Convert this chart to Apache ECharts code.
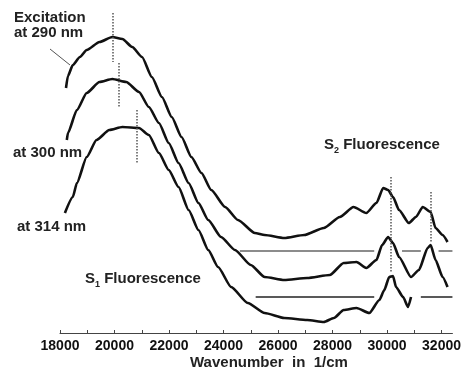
<!DOCTYPE html>
<html>
<head>
<meta charset="utf-8">
<script src="https://cdn.jsdelivr.net/npm/echarts@6/dist/echarts.min.js"></script>
<style>html,body{margin:0;padding:0;background:#fff}#c{width:464px;height:374px}</style>
</head>
<body>
<div id="c"></div>
<script>
// Wavenumber (1/cm) and intensity (arbitrary units)
const wn290 = [18220,18290,18470,18730,18980,19450,19920,20290,20650,21010,21370,21740,22100,22460,22820,23190,23550,24060,24530,25150,25510,26230,26960,27680,28270,28770,29240,29610,29860,30040,30220,30440,30800,31060,31310,31600,31780,32040,32220];
const int290 = [245,257,268,276,283,291,296,294,286,276,256,236,216,196,176,160,143,126,113,100,98,95,98,105,116,126,120,130,145,143,136,123,110,116,126,121,105,98,91];

const wn300 = [18250,18290,18620,18980,19450,19920,20430,20900,21260,21630,21990,22350,22720,23080,23440,23910,24420,25000,25510,26230,27070,27900,28410,28880,29240,29610,29820,30040,30220,30440,30880,31170,31490,31600,31780,32040,32220];
const int300 = [193,200,223,240,251,254,251,241,226,210,190,170,150,130,113,96,83,68,56,53,55,58,70,71,65,73,88,96,90,76,56,63,85,88,73,56,46];

const wn314 = [18180,18470,18620,18980,19340,19810,20290,20900,21260,21630,21990,22350,22720,23080,23440,23800,24280,24890,25510,26230,27070,27680,28050,28410,28880,29350,29720,29900,30080,30220,30330,30590,30770,30880];
const int314 = [120,136,150,176,193,203,206,205,198,180,163,146,123,103,83,66,46,30,20,15,13,11,15,23,25,20,33,43,56,57,46,36,26,36];

// Baselines: [start, end] segments and their level
const base300Level = 82;
const base300Segs = [[24600,29530],[30550,31240],[31890,32400]];
const base314Level = 36.5;
const base314Segs = [[25180,29530],[31240,32400]];

// Dotted peak markers: [wavenumber, from, to]
const peakMarks = [[19920,320,271],[20140,270,226],[20830,223,170],[30150,156,60],[31600,141,90]];

const xTicks = [18000,19000,20000,21000,22000,23000,24000,25000,26000,27000,28000,29000,30000,31000,32000];
const xLabels = [18000,20000,22000,24000,26000,28000,30000,32000];

const zip = (a,b) => a.map((v,i) => [v,b[i]]);
const segLines = (segs, lvl) => segs.map(s => [{coord:[s[0],lvl]},{coord:[s[1],lvl]}]);

const curveStyle = {color:'#111', width:2.6};
const FONT = '"Liberation Sans", Arial, sans-serif';
const chart = echarts.init(document.getElementById('c'));
chart.setOption({
  animation:false,
  backgroundColor:'#fff',
  grid:{left:60,right:7,top:0,bottom:41},
  xAxis:{
    type:'value', min:18000, max:32400,
    axisLine:{lineStyle:{color:'#444',width:1}},
    axisTick:{show:true, inside:true, length:3, customValues:xTicks, lineStyle:{color:'#444'}},
    axisLabel:{customValues:xLabels, formatter:v => String(v), margin:6, color:'#111', fontFamily:FONT, fontWeight:'bold', fontSize:14},
    splitLine:{show:false}
  },
  yAxis:{type:'value', min:0, max:333, show:false},
  series:[
    {type:'line', data:zip(wn290,int290), symbol:'none', smooth:0.2, smoothMonotone:'x', lineStyle:curveStyle},
    {type:'line', data:zip(wn300,int300), symbol:'none', smooth:0.2, smoothMonotone:'x', lineStyle:curveStyle,
      markLine:{silent:true, symbol:'none', label:{show:false}, lineStyle:{color:'#666', width:1.5, type:'solid'},
        data:segLines(base300Segs, base300Level)}},
    {type:'line', data:zip(wn314,int314), symbol:'none', smooth:0.2, smoothMonotone:'x', lineStyle:curveStyle,
      markLine:{silent:true, symbol:'none', label:{show:false}, lineStyle:{color:'#222', width:1.5, type:'solid'},
        data:segLines(base314Segs, base314Level)}},
    {type:'line', data:[], symbol:'none',
      markLine:{silent:true, symbol:'none', label:{show:false}, lineStyle:{color:'#555', width:1.5, type:'dotted'},
        data:peakMarks.map(p => [{coord:[p[0],p[1]]},{coord:[p[0],p[2]]}])}}
  ],
  graphic:[
    {type:'line', shape:{x1:50,y1:49,x2:70,y2:65}, style:{stroke:'#555', lineWidth:1}},
    {type:'text', left:14, top:10, style:{text:'Excitation', fill:'#222', font:'bold 15px ' + FONT}},
    {type:'text', left:14, top:25, style:{text:'at 290 nm', fill:'#222', font:'bold 15px ' + FONT}},
    {type:'text', left:13, top:145, style:{text:'at 300 nm', fill:'#222', font:'bold 15px ' + FONT}},
    {type:'text', left:17, top:219, style:{text:'at 314 nm', fill:'#222', font:'bold 15px ' + FONT}},
    {type:'text', left:85, top:268, style:{text:'{a|S}{s|1}{a| Fluorescence}', fill:'#222',
      rich:{a:{font:'bold 15px ' + FONT, fill:'#222', lineHeight:18},
            s:{font:'bold 9px ' + FONT, fill:'#222', padding:[12,0,0,0], lineHeight:18}}}},
    {type:'text', left:324, top:134, style:{text:'{a|S}{s|2}{a| Fluorescence}', fill:'#222',
      rich:{a:{font:'bold 15px ' + FONT, fill:'#222', lineHeight:18},
            s:{font:'bold 9px ' + FONT, fill:'#222', padding:[12,0,0,0], lineHeight:18}}}},
    {type:'text', left:190, top:355, style:{text:'Wavenumber  in  1/cm', fill:'#222', font:'bold 15px ' + FONT}}
  ]
});
</script>
</body>
</html>
